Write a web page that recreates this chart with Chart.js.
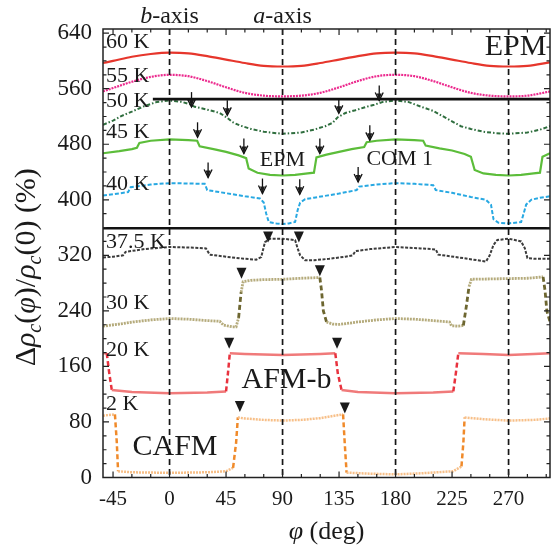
<!DOCTYPE html>
<html><head><meta charset="utf-8">
<script src="https://cdn.jsdelivr.net/npm/chart.js@4.4.0/dist/chart.umd.min.js"></script>
<style>html,body{margin:0;padding:0;background:#fff}#wrap{width:553px;height:551px;position:relative}</style>
</head><body><div id="wrap"><canvas id="c"></canvas></div>
<script>
const SERIF = '"Liberation Serif","Times New Roman",serif';

// ---- data (phi in degrees, values in %) ----
const phi60 = [-53,-45,-30,-15,0,15,30,45,60,75,90,105,120,135,150,165,180,195,210,225,240,255,270,285,303];
const val60 = [597,600,606,610,612,611,607,602,597,593,592,593,597,602,607,611,612,611,607,602,597,593,592,593,598];

const phi55 = [-53,-45,-30,-15,0,15,30,45,60,75,90,105,120,135,150,165,180,195,210,225,240,255,270,285,303];
const val55 = [556,561,570,577,580,578,571,562,554,550,549,550,554,562,571,578,580,578,571,562,554,550,549,550,556];

const phi50 = [-53,-45,-38,-30,-20,-10,0,10,17,20,25,32,40,46,50,56,65,75,90,105,115,124,130,134,140,148,155,163,170,180,190,196,202,210,220,226,232,240,250,260,270,285,295,303];
const val50 = [508,514,521,527,535,541,543,541,537,534,532,529,525,518,512,507,502,498,495,497,501,506,511,519,525,529,533,537,541,543,541,537,533,528,518,512,506,502,498,496,495,497,501,506];

const phi45 = [-53,-40,-30,-26,-24,-15,0,15,22,24,35,45,55,61,63,70,80,90,100,110,115,117,125,135,145,155,157,165,180,195,202,204,215,225,235,240,243,250,260,270,280,290,295,297,303];
const val45 = [467,470,473,475,482,485,487,486,485,477,473,469,464,460,445,439,436,435,436,438,439,461,465,469,473,476,483,485,487,486,485,478,474,471,466,462,443,438,436,435,436,438,439,462,467];

const phi40 = [-53,-45,-33,-31,-15,0,15,28,30,40,50,60,72,75,77,79,85,90,95,100,102,104,108,115,125,135,149,151,165,180,195,210,212,225,240,252,256,258,262,270,280,282,284,288,295,303];
const val40 = [406,408,411,418,422,424,423.5,423,414,411,408,405,402,396,380,368,366,365,366,368,385,396,401,403,406,409,414,419,422,424,423,421,414,410,404,400,393,372,367,366,368,380,393,400,403,405];

const phi37 = [-53,-45,-37,-35,-20,0,20,29,32,45,60,69,73,76,80,90,100,102,104,108,115,127,140,146,148,160,180,200,212,214,230,245,252,255,258,261,270,280,283,285,290,303];
const val37 = [317,318,320,325,329,332,331,330,321,318,315,313.8,317.5,339,344,344,342,330,320,313,313,315,318,320,326,329,332,330,328.5,321,317,313,311,320,335,342,344,340,330,316,315,315];

const phi30 = [-53,-40,-29,-15,0,15,30,40,43,50,53,55,57,58.6,65,75,90,105,119.7,121,122.5,125,130,135.6,150,165,180,195,210,223,224.5,230,234,236.5,238.5,240.4,255,270,285,297.5,299,300.5,303];
const val30 = [218,221,224,227,229,228,226,225,219.5,217,217,230,267,282,284,285,285.5,287,288,270,240,224,221,220.5,224,227,229,228,226,224,218.5,218,219,248,275,285.5,286,286.5,287,289,270,240,224];

const phi20 = [-53,-50,-48,-46,-30,0,30,45,46.5,48,60,90,120,132,134,137,150,180,210,226,228,230,250,270,290,303];
const val20 = [179,179,150,126,123,121.5,122.5,124,150,179,178,176.5,178,179,150,126,123,121.5,122.5,124,150,179,178,176.5,178,179];

const phi2 = [-53,-43.5,-42,-41,-30,0,30,45,50.6,53,54.4,60,75,90,105,120,138.2,139.5,141,160,180,200,225.8,232.5,234,235,250,270,290,303];
const val2 = [89,91,50,9,7.5,6.7,7.5,9,14,50,86.5,85,83,82,83,85.5,91,50,7,5.5,4.5,6,9,16,50,86.5,84,82,83,85];

const xTickVals = [-45,0,45,90,135,180,225,270];
const yTickVals = [0,80,160,240,320,400,480,560,640];

const tempLabels = ['60 K','55 K','50 K','45 K','40 K','37.5 K','30 K','20 K','2 K'];
const tempLabelVal = [627,578,542.4,497.5,422,339,251,183.5,105.7];

const phaseText = ['EPM','EPM','COM 1','AFM-b','CAFM'];
const phasePhi = [251,71.9,156.8,57.3,-29.5];
const phaseVal = [620,457,459,140,44];

const arrowPhi = [17.5,46,134.8,167,22.3,59.2,119.7,159.5,30.7,74,103.7,150.2];
const arrowVal = [533.5,521.6,524.5,543,490,466.5,466.5,485.6,432,409,408,425.6];
const triPhi = [78.5,103,57.3,119.7,47.5,133.4,56,139.6];
const triVal = [347,347,295,298.6,194,194,103,100.7];

const axisPhi = [0,90];           // b-axis, a-axis
const vLinePhi = [0,90,180,270];
const hLineVal = [545,359];
const hLineFrom = [-13.3,-53];

// ---- styles ----
const phaseSize = [30,22,22,30,30];
function pts(p,v){return p.map((x,i)=>({x:x,y:v[i]}));}
function stepSeg(light, dark, dash){
  const steep = c => Math.abs(c.p1.parsed.y - c.p0.parsed.y) > 15;
  return { borderColor: c => steep(c) ? dark : light,
           borderDash: c => steep(c) ? [5,3] : dash };
}
const datasets = [
  {label:'60 K', data:pts(phi60,val60), borderColor:'#e6362c', borderWidth:2.2, cubicInterpolationMode:'monotone'},
  {label:'55 K', data:pts(phi55,val55), borderColor:'#ec2a8e', borderWidth:2.2, borderDash:[2,1], cubicInterpolationMode:'monotone'},
  {label:'50 K', data:pts(phi50,val50), borderColor:'#2f6e3e', borderWidth:2, borderDash:[4,2,1.5,2]},
  {label:'45 K', data:pts(phi45,val45), borderColor:'#5cbd3a', borderWidth:2.2},
  {label:'40 K', data:pts(phi40,val40), borderColor:'#27a8e2', borderWidth:2, borderDash:[4,2]},
  {label:'37.5 K', data:pts(phi37,val37), borderColor:'#3c3c3c', borderWidth:2, borderDash:[3,1.5]},
  {label:'30 K', data:pts(phi30,val30), borderColor:'#b5ab7c', borderWidth:2.8, borderDash:[2,1], segment:stepSeg('#b5ab7c','#6d6630',[2,1])},
  {label:'20 K', data:pts(phi20,val20), borderColor:'#f07a7a', borderWidth:2.5, segment:stepSeg('#f07a7a','#e8323e',[])},
  {label:'2 K', data:pts(phi2,val2), borderColor:'#f7bf88', borderWidth:2.5, borderDash:[2,1], segment:stepSeg('#f7bf88','#f08a2a',[2,1])}
];
datasets.forEach(d=>{d.pointRadius=0; d.fill=false;});

function txt(ctx, s, x, y, size, align, italic){
  ctx.font = (italic?'italic ':'') + size + 'px ' + SERIF;
  ctx.textAlign = align || 'left'; ctx.textBaseline = 'middle';
  ctx.fillText(s, x, y);
}
function richLine(ctx, parts, x, y, align){
  let w = 0;
  parts.forEach(p=>{ctx.font=(p.i?'italic ':'')+p.s+'px '+SERIF; p.w=ctx.measureText(p.t).width; w+=p.w;});
  let cx = align==='center' ? x - w/2 : x;
  ctx.textAlign='left'; ctx.textBaseline='alphabetic';
  parts.forEach(p=>{ctx.font=(p.i?'italic ':'')+p.s+'px '+SERIF; ctx.fillText(p.t, cx, y + (p.dy||0)); cx += p.w;});
}

const deco = {
  id:'deco',
  afterDatasetsDraw(chart){
    const {ctx, chartArea:a, scales:{x,y}} = chart;
    ctx.save();
    ctx.fillStyle = '#1a1a1a';
    // temperature labels
    tempLabels.forEach((t,i)=>txt(ctx, t, a.left+3, y.getPixelForValue(tempLabelVal[i]), 22, 'left'));
    // phase labels
    phaseText.forEach((t,i)=>txt(ctx, t, x.getPixelForValue(phasePhi[i]), y.getPixelForValue(phaseVal[i]), phaseSize[i], 'left'));
    // horizontal separators
    ctx.strokeStyle = '#111'; ctx.lineWidth = 2.6;
    hLineVal.forEach((v,i)=>{const py=y.getPixelForValue(v); ctx.beginPath(); ctx.moveTo(Math.max(a.left,x.getPixelForValue(hLineFrom[i])),py); ctx.lineTo(a.right,py); ctx.stroke();});
    // vertical dashed lines
    ctx.lineWidth = 1.7; ctx.setLineDash([6,4]); ctx.strokeStyle='#151515';
    vLinePhi.forEach(v=>{const px=x.getPixelForValue(v); ctx.beginPath(); ctx.moveTo(px,a.top); ctx.lineTo(px,a.bottom); ctx.stroke();});
    ctx.setLineDash([]);
    // thin arrows
    ctx.lineWidth = 1.3; ctx.strokeStyle='#111';
    arrowPhi.forEach((p,i)=>{const px=x.getPixelForValue(p), py=y.getPixelForValue(arrowVal[i]);
      ctx.beginPath(); ctx.moveTo(px,py-15); ctx.lineTo(px,py); ctx.stroke();
      ctx.beginPath(); ctx.moveTo(px-4,py-8); ctx.lineTo(px,py); ctx.lineTo(px+4,py-8); ctx.stroke();
      ctx.beginPath(); ctx.moveTo(px-2.5,py-7); ctx.lineTo(px,py); ctx.lineTo(px+2.5,py-7); ctx.closePath(); ctx.fill();});
    // filled triangles
    triPhi.forEach((p,i)=>{const px=x.getPixelForValue(p), py=y.getPixelForValue(triVal[i]);
      ctx.beginPath(); ctx.moveTo(px-5,py-5); ctx.lineTo(px+5,py-5); ctx.lineTo(px,py+6); ctx.closePath(); ctx.fill();});
    // frame
    ctx.lineWidth = 1.5; ctx.strokeStyle='#222';
    ctx.strokeRect(a.left, a.top, a.right-a.left, a.bottom-a.top);
    // inward ticks
    ctx.lineWidth = 1.2;
    for(let v=-45; v<=x.max; v+=15){ if(v<x.min) continue; const px=x.getPixelForValue(v); const L=(v%45===0)?6:3.5;
      ctx.beginPath(); ctx.moveTo(px,a.bottom); ctx.lineTo(px,a.bottom-L); ctx.moveTo(px,a.top); ctx.lineTo(px,a.top+L); ctx.stroke(); }
    for(let v=0; v<=y.max; v+=20){ const py=y.getPixelForValue(v); const L=(v%80===0)?6:3.5;
      ctx.beginPath(); ctx.moveTo(a.left,py); ctx.lineTo(a.left+L,py); ctx.moveTo(a.right,py); ctx.lineTo(a.right-L,py); ctx.stroke(); }
    // axis direction labels above plot
    ctx.fillStyle='#1a1a1a';
    richLine(ctx,[{t:'b',s:24,i:true},{t:'-axis',s:24}], x.getPixelForValue(axisPhi[0]), 23, 'center');
    richLine(ctx,[{t:'a',s:24,i:true},{t:'-axis',s:24}], x.getPixelForValue(axisPhi[1]), 23, 'center');
    // x title
    richLine(ctx,[{t:'φ',s:26,i:true},{t:' (deg)',s:26}], (a.left+a.right)/2, 539, 'center');
    // y title
    ctx.translate(35, (a.top+a.bottom)/2 + 14);
    ctx.rotate(-Math.PI/2);
    richLine(ctx,[{t:'Δ',s:30},{t:'ρ',s:30,i:true},{t:'c',s:20,i:true,dy:6},{t:'(',s:30},{t:'φ',s:30,i:true},{t:')/',s:30},
                  {t:'ρ',s:30,i:true},{t:'c',s:20,i:true,dy:6},{t:'(0) (%)',s:30}], 0, 0, 'center');
    ctx.restore();
  }
};

new Chart(document.getElementById('c'), {
  type:'line',
  data:{datasets:datasets},
  options:{
    responsive:true, maintainAspectRatio:false, animation:false,
    layout:{padding:{top:29,right:3,left:0,bottom:0}},
    plugins:{legend:{display:false}, tooltip:{enabled:false}},
    scales:{
      x:{type:'linear', min:-53, max:303,
         afterBuildTicks:s=>{s.ticks = xTickVals.map(v=>({value:v}));},
         afterFit:s=>{s.height=73.5;},
         grid:{display:false, drawTicks:false}, border:{display:false},
         ticks:{padding:9, color:'#1a1a1a', font:{family:SERIF, size:21}, maxRotation:0, autoSkip:false}},
      y:{type:'linear', min:0, max:646,
         afterBuildTicks:s=>{s.ticks = yTickVals.map(v=>({value:v}));},
         afterFit:s=>{s.width=103;},
         grid:{display:false, drawTicks:false}, border:{display:false},
         ticks:{padding:11, color:'#1a1a1a', font:{family:SERIF, size:23}, autoSkip:false}}
    }
  },
  plugins:[deco]
});
</script></body></html>
